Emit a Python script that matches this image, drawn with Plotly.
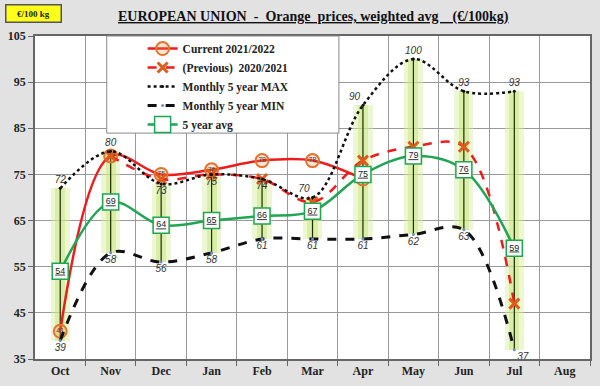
import plotly.graph_objects as go

months = ["Oct", "Nov", "Dec", "Jan", "Feb", "Mar", "Apr", "May", "Jun", "Jul", "Aug"]
current = [41, 79, 75, 76, 78, 78, 74]
previous = [None, 79, 74, 75, 74, 69, 78, 81, 81, 47]
max5 = [72, 80, 73, 75, 74, 70, 90, 100, 93, 93]
min5 = [39, 58, 56, 58, 61, 61, 61, 62, 63, 37]
avg5 = [54, 69, 64, 65, 66, 67, 75, 79, 76, 59]
yticks = [35, 45, 55, 65, 75, 85, 95, 105]

n = len(max5)
xs = list(range(len(months)))
serif = "Liberation Serif"
sans = "Liberation Sans"

fig = go.Figure()

# green glow range bars
span = [mx - mn for mx, mn in zip(max5, min5)]
fig.add_trace(go.Bar(x=xs[:n], y=span, base=min5, width=0.38,
                     marker=dict(color="rgba(215,238,160,0.45)", line=dict(width=0)),
                     showlegend=False, hoverinfo="skip"))
fig.add_trace(go.Bar(x=xs[:n], y=span, base=min5, width=0.2,
                     marker=dict(color="rgba(200,230,120,0.5)", line=dict(width=0)),
                     showlegend=False, hoverinfo="skip"))

# thin black vertical range lines
vx, vy = [], []
for i in range(n):
    vx += [xs[i], xs[i], None]
    vy += [min5[i], max5[i], None]
fig.add_trace(go.Scatter(x=vx, y=vy, mode="lines", line=dict(color="#1a2a10", width=1.2),
                         showlegend=False, hoverinfo="skip"))

cur_text = [str(v) for v in current]
cur_text[-1] = ""  # hidden behind the avg box in the reference
fig.add_trace(go.Scatter(
    x=xs[:len(current)], y=current, name="Current 2021/2022",
    mode="lines+markers+text", line=dict(color="#ee1c1c", width=2.5, shape="spline"),
    marker=dict(symbol="circle", size=13, color="rgba(240,150,80,0.25)",
                line=dict(color="#e2742e", width=2)),
    text=cur_text, textposition="middle center",
    textfont=dict(family=sans, size=7, color="#444444")))

fig.add_trace(go.Scatter(
    x=xs[:len(previous)], y=previous, name="(Previous)  2020/2021",
    mode="lines+markers", line=dict(color="#ee1c1c", width=2.5, dash="dash", shape="spline"),
    marker=dict(symbol="x-thin", size=10, line=dict(color="#e05a1a", width=3), color="#e05a1a")))

max_pos = ["top center", "top center", "bottom center", "bottom center", "bottom center",
           "top left", "top left", "top center", "top center", "top center"]
fig.add_trace(go.Scatter(
    x=xs[:n], y=max5, name="Monthly 5 year MAX",
    mode="lines+markers+text", line=dict(color="#111111", width=2.5, dash="dot", shape="spline"),
    marker=dict(size=3, color="#111111"),
    text=[str(v) for v in max5], textposition=max_pos,
    textfont=dict(family=sans, size=10, color="#333333", style="italic")))

min_pos = ["bottom center"] * (n - 1) + ["bottom right"]
fig.add_trace(go.Scatter(
    x=xs[:n], y=min5, name="Monthly 5 year MIN",
    mode="lines+markers+text", line=dict(color="#111111", width=3, dash="dash", shape="spline"),
    marker=dict(size=3, color="#6f8fcf"),
    text=[str(v) for v in min5], textposition=min_pos,
    textfont=dict(family=sans, size=10, color="#333333", style="italic")))

fig.add_trace(go.Scatter(
    x=xs[:n], y=avg5, name="5 year avg",
    mode="lines+markers+text", line=dict(color="#1fa553", width=2.5, shape="spline"),
    marker=dict(symbol="square", size=16, color="white", line=dict(color="#1fa553", width=1.5)),
    text=["<u>%d</u>" % v for v in avg5], textposition="middle center",
    textfont=dict(family=sans, size=9, color="#222222")))

W, H = 600, 386
L, R, T, B = 35, 8, 36, 24
pw, ph = W - L - R, H - T - B

def px(xp):
    return (xp - L) / pw

def py(yp):
    return (H - B - yp) / ph

# legend box
fig.add_shape(type="rect", xref="paper", yref="paper", x0=px(107), x1=px(340), y0=py(134), y1=py(36),
              fillcolor="white", line=dict(color="#888888", width=1), layer="above")

# yellow unit box
fig.add_annotation(xref="paper", yref="paper", x=px(33.5), y=py(13), xanchor="center", yanchor="middle",
                   text="<b>€/100 kg</b>",
                   showarrow=False, width=52, height=14, bgcolor="#ffff1a", bordercolor="#555555",
                   borderwidth=1.5, borderpad=1, font=dict(family=serif, size=9, color="#222222"))

nb = "\u00a0"
title = ("<b><u>EUROPEAN UNION" + nb * 2 + "-" + nb * 2 + "Orange" + nb * 2 + "prices, weighted avg"
         + nb * 4 + "(€/100kg)</u></b>")
fig.add_annotation(xref="paper", yref="paper", x=px(315), y=py(17), xanchor="center", yanchor="middle",
                   text=title, showarrow=False,
                   font=dict(family=serif, size=14, color="#111111"))

fig.update_layout(
    width=W, height=H, margin=dict(l=L, r=R, t=T, b=B),
    paper_bgcolor="#e2e2e2", plot_bgcolor="white",
    barmode="overlay", bargap=0,
    showlegend=True,
    legend=dict(x=px(143), y=py(34), xanchor="left", yanchor="top", bgcolor="rgba(0,0,0,0)",
                borderwidth=0, tracegroupgap=0,
                font=dict(family=serif, size=11.5, color="#222222", weight="bold")),
    font=dict(family=serif),
)
fig.update_xaxes(range=[-0.5, len(months) - 0.5], tickvals=xs, ticktext=months,
                 showgrid=False, ticks="", zeroline=False,
                 tickfont=dict(family=serif, size=12, color="#222222", weight="bold"),
                 showline=True, linecolor="#666666", linewidth=1.5, mirror=True,
                 minor=dict(tickvals=[i + 0.5 for i in xs], ticks="outside", ticklen=5,
                            tickcolor="#666666", showgrid=True, gridcolor="#999999", gridwidth=1.3))
fig.update_yaxes(range=[35, 105], tickvals=yticks, showgrid=True, gridcolor="#999999", gridwidth=1.3,
                 ticks="outside", ticklen=5, tickcolor="#666666", zeroline=False,
                 tickfont=dict(family=serif, size=12, color="#222222", weight="bold"),
                 showline=True, linecolor="#666666", linewidth=1.5, mirror=True)

fig.write_html("out.html", post_script="document.body.style.margin='0px';",
               config={"displayModeBar": False})
